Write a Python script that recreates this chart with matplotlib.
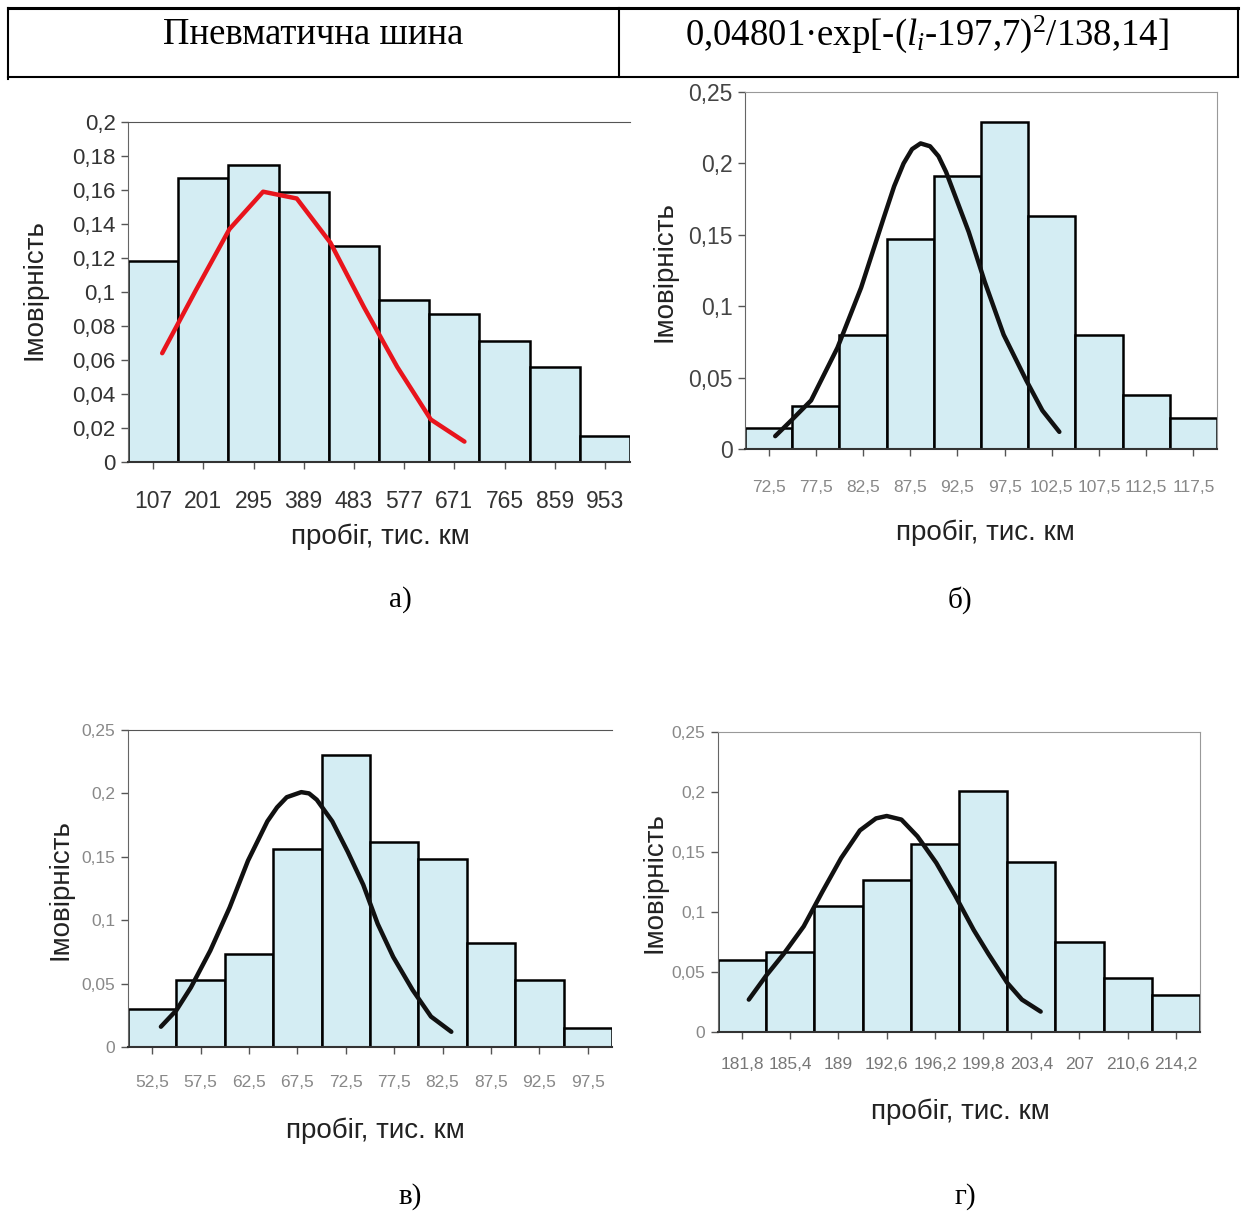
import matplotlib.pyplot as plt
from matplotlib.lines import Line2D

W, H = 1248, 1214

plt.rcParams['font.family'] = ['Liberation Sans', 'DejaVu Sans']
plt.rcParams['mathtext.fontset'] = 'custom'
plt.rcParams['mathtext.rm'] = 'Liberation Serif'
plt.rcParams['mathtext.it'] = 'Liberation Serif:italic'

# а) пробіг, інтервали по 94 тис. км
centers_a = [107, 201, 295, 389, 483, 577, 671, 765, 859, 953]
labels_a = ["107", "201", "295", "389", "483", "577", "671", "765", "859", "953"]
freq_a = [0.118, 0.167, 0.175, 0.159, 0.127, 0.095, 0.087, 0.071, 0.056, 0.015]
curve_x_a = [124, 187, 250, 313, 376, 439, 502, 564, 627, 690]
curve_y_a = [0.064, 0.101, 0.137, 0.159, 0.155, 0.129, 0.091, 0.056, 0.025, 0.012]

# б)
centers_b = [72.5, 77.5, 82.5, 87.5, 92.5, 97.5, 102.5, 107.5, 112.5, 117.5]
labels_b = ["72,5", "77,5", "82,5", "87,5", "92,5", "97,5", "102,5", "107,5", "112,5", "117,5"]
freq_b = [0.015, 0.030, 0.080, 0.147, 0.191, 0.229, 0.163, 0.080, 0.038, 0.022]
curve_x_b = [73.2, 74.9, 77.0, 79.8, 82.3, 84.7, 85.8, 86.8, 87.7, 88.6, 89.6, 90.5, 91.3,
             92.1, 93.7, 95.4, 97.4, 99.8, 101.5, 103.3]
curve_y_b = [0.009, 0.020, 0.034, 0.071, 0.113, 0.162, 0.184, 0.200, 0.210, 0.214, 0.212, 0.205, 0.194,
             0.180, 0.152, 0.117, 0.080, 0.048, 0.027, 0.012]

# в)
centers_v = [52.5, 57.5, 62.5, 67.5, 72.5, 77.5, 82.5, 87.5, 92.5, 97.5]
labels_v = ["52,5", "57,5", "62,5", "67,5", "72,5", "77,5", "82,5", "87,5", "92,5", "97,5"]
freq_v = [0.030, 0.053, 0.073, 0.156, 0.230, 0.162, 0.148, 0.082, 0.053, 0.015]
curve_x_v = [53.4, 55.0, 56.5, 58.5, 60.5, 62.4, 64.4, 65.4, 66.4, 67.9, 68.7, 69.5, 71.1, 72.7,
             74.3, 75.8, 77.4, 79.4, 81.3, 83.4]
curve_y_v = [0.016, 0.029, 0.047, 0.076, 0.110, 0.147, 0.178, 0.189, 0.197, 0.201, 0.200, 0.195, 0.178, 0.154,
             0.128, 0.097, 0.071, 0.045, 0.024, 0.012]

# г)
centers_g = [181.8, 185.4, 189.0, 192.6, 196.2, 199.8, 203.4, 207.0, 210.6, 214.2]
labels_g = ["181,8", "185,4", "189", "192,6", "196,2", "199,8", "203,4", "207", "210,6", "214,2"]
freq_g = [0.060, 0.067, 0.105, 0.127, 0.157, 0.201, 0.142, 0.075, 0.045, 0.031]
curve_x_g = [182.3, 183.6, 184.9, 186.4, 187.8, 189.2, 190.6, 191.8, 192.6, 193.7, 194.9, 196.3, 197.7, 199.1, 200.2, 201.6, 202.7, 204.1]
curve_y_g = [0.027, 0.047, 0.065, 0.088, 0.117, 0.145, 0.168, 0.178, 0.180, 0.177, 0.163, 0.141, 0.114, 0.085, 0.065, 0.041, 0.027, 0.017]

BAR_COLOR = '#d4edf3'


def px(x, y):
    return x / W, 1 - y / H


def make_axes(fig, left, top, right, bottom):
    return fig.add_axes([left / W, 1 - bottom / H, (right - left) / W, (bottom - top) / H])


def comma(v):
    return f"{v:g}".replace('.', ',')


def draw_panel(ax, centers, labels, freq, cx, cy, line_color, ymax, ystep,
               xfs, yfs, xcol, ycol, xpad, box):
    step = centers[1] - centers[0]
    ax.bar(centers, freq, width=step, color=BAR_COLOR, edgecolor='black', linewidth=1.8, zorder=2)
    ax.plot(cx, cy, color=line_color, lw=3.2, solid_joinstyle='round', solid_capstyle='round', zorder=3)
    ax.set_xlim(centers[0] - step / 2, centers[-1] + step / 2)
    ax.set_ylim(0, ymax)
    ax.set_xticks(centers)
    ax.set_xticklabels(labels, fontsize=xfs, color=xcol)
    n = int(round(ymax / ystep))
    yt = [round(i * ystep, 3) for i in range(n + 1)]
    ax.set_yticks(yt)
    ax.set_yticklabels([comma(v) for v in yt], fontsize=yfs, color=ycol)
    ax.tick_params(axis='x', direction='out', length=5, width=1, color='#555', pad=xpad)
    ax.tick_params(axis='y', direction='out', length=5, width=1, color='#555', pad=4)
    ax.spines['bottom'].set_color('#333')
    ax.spines['bottom'].set_linewidth(1.5)
    ax.spines['left'].set_color('#666')
    ax.spines['top'].set_color('#555')
    if box:
        ax.spines['right'].set_color('#999')
        ax.spines['top'].set_color('#999')
    else:
        ax.spines['right'].set_visible(False)
    ax.set_facecolor('none')


fig = plt.figure(figsize=(W / 100, H / 100), dpi=100)

# таблиця зверху
for (x0, y0, x1, y1, w) in [(8, 8, 1238, 8, 2.2), (8, 77, 1238, 77, 1.5), (8, 8, 8, 79, 1.5),
                            (619, 8, 619, 77, 1.5), (1238, 8, 1238, 77, 1.5)]:
    a, b = px(x0, y0)
    c, d = px(x1, y1)
    fig.add_artist(Line2D([a, c], [b, d], color='black', lw=w))

fig.text(*px(313, 44), "Пневматична шина", family='Liberation Serif', fontsize=26.5,
         ha='center', va='baseline')
fig.text(*px(927, 45), r"0,04801·exp[-($l_i$-197,7)$^2$/138,14]", family='Liberation Serif',
         fontsize=26.5, ha='center', va='baseline')

ax_a = make_axes(fig, 128, 122, 630, 462)
draw_panel(ax_a, centers_a, labels_a, freq_a, curve_x_a, curve_y_a, '#e8141c', 0.2, 0.02,
           16.5, 16, '#333', '#333', 15, False)

ax_b = make_axes(fig, 745, 92, 1217, 449)
draw_panel(ax_b, centers_b, labels_b, freq_b, curve_x_b, curve_y_b, '#111', 0.25, 0.05,
           12.5, 16.5, '#888', '#444', 17, True)

ax_v = make_axes(fig, 128, 730, 612, 1047)
draw_panel(ax_v, centers_v, labels_v, freq_v, curve_x_v, curve_y_v, '#111', 0.25, 0.05,
           12.5, 12.5, '#888', '#888', 15, False)

ax_g = make_axes(fig, 718, 732, 1200, 1032)
draw_panel(ax_g, centers_g, labels_g, freq_g, curve_x_g, curve_y_g, '#111', 0.25, 0.05,
           12.5, 12.5, '#777', '#888', 13, True)

# підписи осей
for (x, y) in [(35, 290), (665, 272), (60, 890), (655, 883)]:
    fig.text(*px(x, y), "Імовірність", fontsize=20, rotation=90, ha='center', va='center', color='#222')
for (x, y) in [(380, 537), (985, 533), (375, 1131), (960, 1112)]:
    fig.text(*px(x, y), "пробіг, тис. км", fontsize=20, ha='center', va='center', color='#222')

# позначки рисунків
for (x, y, t) in [(400, 600, "а)"), (960, 600, "б)"), (410, 1197, "в)"), (965, 1197, "г)")]:
    fig.text(*px(x, y), t, family='Liberation Serif', fontsize=21, ha='center', va='center')

fig.savefig("out.png", dpi=100, facecolor='white')
